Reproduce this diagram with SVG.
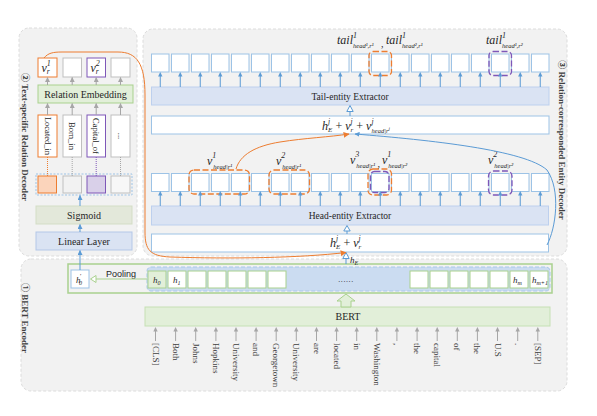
<svg xmlns="http://www.w3.org/2000/svg" xmlns:xlink="http://www.w3.org/1999/xlink" width="597" height="416" viewBox="0 0 597 416">
<style>
.t{font-family:"Liberation Serif","Times New Roman","Noto Sans CJK SC",serif;fill:#262626}
.it{font-family:"Liberation Serif","Times New Roman",serif;font-style:italic;fill:#262626}
.pl{font-family:"Liberation Serif","Noto Sans CJK SC",serif;font-weight:bold;font-size:9px;fill:#404040}
.panel{fill:#f2f2f2;stroke:#dcdcdc;stroke-width:1;stroke-dasharray:3 2}
.bb{fill:#fff;stroke:#9dc3e6;stroke-width:1}
.ext{fill:#dae3f3;stroke:#bdd0ee;stroke-width:1}
.gb{fill:#fff;stroke:#a9d18e;stroke-width:1}
.gr{fill:#fff;stroke:#bfbfbf;stroke-width:1}
.ab{stroke:#5b9bd5;stroke-width:1;fill:none}
.ag{stroke:#a6a6a6;stroke-width:1;fill:none}
.ho{fill:none;stroke:#ed7d31;stroke-width:1.3;stroke-dasharray:6 2.5}
.hp{fill:none;stroke:#7e57b8;stroke-width:1.3;stroke-dasharray:6 2.5}
.tok{font-family:"Liberation Serif","Times New Roman",serif;font-size:9px;fill:#404040}
</style>
<defs>
<marker id="mb" viewBox="0 0 10 10" refX="9" refY="5" markerWidth="5" markerHeight="5" markerUnits="userSpaceOnUse" orient="auto"><path d="M0,0L10,5L0,10z" fill="#5b9bd5"/></marker>
<marker id="mg" viewBox="0 0 10 10" refX="9" refY="5" markerWidth="5" markerHeight="5" markerUnits="userSpaceOnUse" orient="auto"><path d="M0,0L10,5L0,10z" fill="#a6a6a6"/></marker>
<marker id="mo" viewBox="0 0 10 10" refX="9" refY="5" markerWidth="6" markerHeight="6" markerUnits="userSpaceOnUse" orient="auto"><path d="M0,0L10,5L0,10z" fill="#ed7d31"/></marker>
<rect id="bx" width="17.5" height="18" class="bb"/>
<rect id="gx" width="18" height="17" class="gb"/>
<g id="ua"><line x1="0" y1="0" x2="0" y2="-11" stroke="#5b9bd5" stroke-width="1"/><path d="M-2.2,-10.5L0,-15L2.2,-10.5z" fill="#5b9bd5"/></g>
<g id="ga"><line x1="0" y1="0" x2="0" y2="-10" stroke="#a6a6a6" stroke-width="1"/><path d="M-2.2,-9.5L0,-14L2.2,-9.5z" fill="#a6a6a6"/></g>
</defs>
<rect width="597" height="416" fill="#fff"/>

<!-- panels -->
<g id="panel-relation-decoder">
<rect x="19" y="28" width="118" height="228" rx="10" class="panel"/>
<text class="pl" transform="translate(25,137) rotate(90)" text-anchor="middle" dy="0.35em">② Text-specific Relation Decoder</text>
</g>
<g id="panel-entity-decoder">
<rect x="143" y="29" width="424" height="227" rx="10" class="panel"/>
<text class="pl" transform="translate(562,140) rotate(90)" text-anchor="middle" dy="0.35em">③ Relation-corresponded Entity Decoder</text>
</g>
<g id="panel-bert-encoder">
<rect x="21" y="259" width="546" height="132" rx="10" class="panel"/>
<text class="pl" transform="translate(25,318) rotate(90)" text-anchor="middle" dy="0.35em">① BERT Encoder</text>
</g>

<!-- left panel nodes -->
<g id="node-vr1"><rect x="38" y="58" width="19" height="19" fill="#fff" stroke="#ed7d31"/><text x="41.5" y="72" class="it" font-size="12">v<tspan font-size="8" dy="-6">1</tspan><tspan font-size="7.5" dx="-4" dy="8">r</tspan></text></g>
<g id="node-vr-blank1"><rect x="63" y="58" width="18.5" height="19" class="gr"/></g>
<g id="node-vr2"><rect x="87" y="58" width="18.5" height="19" fill="#fff" stroke="#7e57b8"/><text x="90.5" y="72" class="it" font-size="12">v<tspan font-size="8" dy="-6">2</tspan><tspan font-size="7.5" dx="-4" dy="8">r</tspan></text></g>
<g id="node-vr-blank2"><rect x="111" y="58" width="19" height="19" class="gr"/></g>
<g id="node-relation-embedding"><rect x="38" y="85" width="95" height="18" fill="#e2efd9" stroke="#a9d18e"/><text x="85.5" y="97.5" class="t" font-size="10" text-anchor="middle">Relation Embedding</text></g>
<g id="node-located-in"><rect x="38" y="115" width="19" height="42" fill="#fff" stroke="#ed7d31"/><text class="t" font-size="8.5" text-anchor="middle" dy="0.33em" transform="translate(47.5,136) rotate(90)">Located_in</text></g>
<g id="node-born-in"><rect x="63" y="115" width="18.5" height="42" class="gr"/><text class="t" font-size="8.5" text-anchor="middle" dy="0.33em" transform="translate(72.2,136) rotate(90)">Born_in</text></g>
<g id="node-capital-of"><rect x="87" y="115" width="18.5" height="42" fill="#fff" stroke="#7e57b8"/><text class="t" font-size="8.5" text-anchor="middle" dy="0.33em" transform="translate(96.2,136) rotate(90)">Capital_of</text></g>
<g id="node-rel-more"><rect x="111" y="115" width="19" height="42" class="gr"/><text class="t" font-size="8.5" text-anchor="middle" dy="0.33em" transform="translate(120.5,136) rotate(90)">...</text></g>
<g id="node-sigmoid-out">
<rect x="36" y="174" width="96" height="21" fill="none" stroke="#9dc3e6" stroke-dasharray="2 1.5"/>
<rect x="38" y="176" width="18.5" height="17" fill="#fbd4bb" stroke="#ed7d31"/>
<rect x="63" y="176" width="18.5" height="17" fill="#f2f2f2" stroke="#bfbfbf"/>
<rect x="87" y="176" width="18.5" height="17" fill="#d9d0e9" stroke="#7e57b8"/>
<rect x="111" y="176" width="19" height="17" fill="#f7f7f7" stroke="#bfbfbf"/>
</g>
<g id="node-sigmoid"><rect x="36" y="206" width="96" height="18" fill="#e3e8da" stroke="#d3ddc6"/><text x="84" y="218.5" class="t" font-size="10" text-anchor="middle">Sigmoid</text></g>
<g id="node-linear"><rect x="36" y="232" width="96" height="18" fill="#dae3f3" stroke="#b4c7e7"/><text x="84" y="244.5" class="t" font-size="10" text-anchor="middle">Linear Layer</text></g>

<!-- tail row -->
<g id="node-tail-row">
<use href="#bx" x="151.5" y="54"/><use href="#bx" x="171.5" y="54"/><use href="#bx" x="191.5" y="54"/><use href="#bx" x="211.5" y="54"/><use href="#bx" x="231.5" y="54"/><use href="#bx" x="251.5" y="54"/><use href="#bx" x="271.5" y="54"/><use href="#bx" x="291.5" y="54"/><use href="#bx" x="311.5" y="54"/><use href="#bx" x="331.5" y="54"/><use href="#bx" x="351.5" y="54"/><use href="#bx" x="371.5" y="54"/><use href="#bx" x="391.5" y="54"/><use href="#bx" x="411.5" y="54"/><use href="#bx" x="431.5" y="54"/><use href="#bx" x="451.5" y="54"/><use href="#bx" x="471.5" y="54"/><use href="#bx" x="491.5" y="54"/><use href="#bx" x="511.5" y="54"/><use href="#bx" x="531.5" y="54"/>
<rect x="369" y="51.5" width="22.5" height="24" rx="4" class="ho"/>
<rect x="489" y="51.5" width="22.5" height="24" rx="4" class="hp"/>
<text x="337" y="44" class="it" font-size="12">tail<tspan font-size="8" dy="-6">1</tspan><tspan font-size="6.5" dx="-4" dy="10">head¹,r¹</tspan></text>
<text x="381" y="47" class="it" font-size="10">,</text>
<text x="386" y="44" class="it" font-size="12">tail<tspan font-size="8" dy="-6">1</tspan><tspan font-size="6.5" dx="-4" dy="10">head²,r¹</tspan></text>
<text x="486" y="44" class="it" font-size="12">tail<tspan font-size="8" dy="-6">1</tspan><tspan font-size="6.5" dx="-4" dy="10">head¹,r²</tspan></text>
</g>
<g id="node-tail-extractor"><rect x="151.5" y="87" width="397.5" height="18" class="ext"/><text x="350" y="99.5" class="t" font-size="9.5" text-anchor="middle">Tail-entity Extractor</text></g>
<g id="node-tail-input"><rect x="151.5" y="116" width="397.5" height="18" class="bb"/>
<text x="322" y="130" class="it" font-size="12">h<tspan font-size="7.5" dy="-6">j</tspan><tspan font-size="7" dx="-2" dy="8">E</tspan><tspan dy="-2" font-style="normal"> + </tspan>v<tspan font-size="7.5" dy="-6">j</tspan><tspan font-size="7" dx="-2" dy="8">r</tspan><tspan dy="-2" font-style="normal"> + </tspan>v<tspan font-size="7.5" dy="-6">j</tspan><tspan font-size="6.5" dx="-2" dy="9">head|r</tspan><tspan font-size="5" dy="-3">j</tspan></text></g>

<!-- head row -->
<g id="node-head-row">
<use href="#bx" x="151.5" y="173.5"/><use href="#bx" x="171.5" y="173.5"/><use href="#bx" x="191.5" y="173.5"/><use href="#bx" x="211.5" y="173.5"/><use href="#bx" x="231.5" y="173.5"/><use href="#bx" x="251.5" y="173.5"/><use href="#bx" x="271.5" y="173.5"/><use href="#bx" x="291.5" y="173.5"/><use href="#bx" x="311.5" y="173.5"/><use href="#bx" x="331.5" y="173.5"/><use href="#bx" x="351.5" y="173.5"/><use href="#bx" x="371.5" y="173.5"/><use href="#bx" x="391.5" y="173.5"/><use href="#bx" x="411.5" y="173.5"/><use href="#bx" x="431.5" y="173.5"/><use href="#bx" x="451.5" y="173.5"/><use href="#bx" x="471.5" y="173.5"/><use href="#bx" x="491.5" y="173.5"/><use href="#bx" x="511.5" y="173.5"/><use href="#bx" x="531.5" y="173.5"/>
<rect x="189" y="170" width="60.5" height="24" rx="5" class="ho"/>
<rect x="269" y="170" width="40.5" height="24" rx="5" class="ho"/>
<rect x="368" y="169" width="23.5" height="26" rx="5" class="ho" stroke-dasharray="none"/>
<rect x="370.5" y="171.5" width="18.5" height="21" rx="4" class="hp"/>
<rect x="488.5" y="171" width="23.5" height="24" rx="5" class="hp"/>
<text x="207" y="165" class="it" font-size="12">v<tspan font-size="8" dy="-7">1</tspan><tspan font-size="6.5" dx="-3" dy="11">head|r¹</tspan></text>
<text x="276" y="165" class="it" font-size="12">v<tspan font-size="8" dy="-7">2</tspan><tspan font-size="6.5" dx="-3" dy="11">head|r¹</tspan></text>
<text x="350" y="164" class="it" font-size="12">v<tspan font-size="8" dy="-7">3</tspan><tspan font-size="6.5" dx="-3" dy="11">head|r¹</tspan></text>
<text x="377.5" y="167" class="it" font-size="10">,</text>
<text x="382" y="164" class="it" font-size="12">v<tspan font-size="8" dy="-7">1</tspan><tspan font-size="6.5" dx="-3" dy="11">head|r²</tspan></text>
<text x="488" y="164" class="it" font-size="12">v<tspan font-size="8" dy="-7">2</tspan><tspan font-size="6.5" dx="-3" dy="11">head|r²</tspan></text>
</g>
<g id="node-head-extractor"><rect x="151.5" y="206" width="397" height="19" class="ext"/><text x="350" y="218.5" class="t" font-size="9.5" text-anchor="middle">Head-entity Extractor</text></g>
<g id="node-head-input"><rect x="151.5" y="234" width="397" height="18" class="bb"/>
<text x="330" y="247" class="it" font-size="12">h<tspan font-size="7.5" dy="-6">j</tspan><tspan font-size="7" dx="-2" dy="8">E</tspan><tspan dy="-2" font-style="normal"> + </tspan>v<tspan font-size="7.5" dy="-6">j</tspan><tspan font-size="7" dx="-2" dy="8">r</tspan></text></g>

<!-- BERT encoder nodes -->
<g id="node-bert-output">
<rect x="68" y="264" width="484" height="29" fill="none" stroke="#a9d18e" stroke-width="1.5"/>
<rect x="147" y="267" width="403" height="24" rx="4" fill="#cbdcf1" stroke="#a8c8ea" stroke-dasharray="4 2"/>
<rect x="148" y="271" width="18" height="17" fill="#e2efd9" stroke="#a9d18e"/>
<use href="#gx" x="168" y="271"/><use href="#gx" x="188" y="271"/><use href="#gx" x="208" y="271"/><use href="#gx" x="228" y="271"/><use href="#gx" x="248" y="271"/><use href="#gx" x="268" y="271"/>
<use href="#gx" x="410" y="271"/><use href="#gx" x="430" y="271"/><use href="#gx" x="450" y="271"/><use href="#gx" x="470" y="271"/><use href="#gx" x="490" y="271"/><use href="#gx" x="510" y="271"/><use href="#gx" x="530" y="271"/>
<text x="153" y="283" class="it" font-size="9">h<tspan font-size="6" dy="2">0</tspan></text>
<text x="173" y="283" class="it" font-size="9">h<tspan font-size="6" dy="2">1</tspan></text>
<text x="513" y="283" class="it" font-size="9">h<tspan font-size="6" dy="2">m</tspan></text>
<text x="532" y="283" class="it" font-size="9">h<tspan font-size="6" dy="2">m+1</tspan></text>
<text x="346" y="282" class="t" font-size="8" letter-spacing="0.6" text-anchor="middle">......</text>
</g>
<g id="node-h0-pooled"><rect x="71" y="270" width="18" height="18" class="bb"/><text x="76" y="283" class="it" font-size="9">h<tspan font-size="7" dx="-1" dy="-5">'</tspan><tspan font-size="6" dx="-2" dy="7">0</tspan></text></g>
<g id="node-bert"><rect x="145" y="307" width="405" height="19" fill="#e2efd9" stroke="#c5e0b4"/><text x="348" y="320" class="t" font-size="10" text-anchor="middle">BERT</text></g>
<g id="node-tokens">
<text class="tok" dy="0.33em" transform="translate(155.5,343) rotate(90)">[CLS]</text>
<text class="tok" dy="0.33em" transform="translate(175.6,343) rotate(90)">Both</text>
<text class="tok" dy="0.33em" transform="translate(195.7,343) rotate(90)">Johns</text>
<text class="tok" dy="0.33em" transform="translate(215.9,343) rotate(90)">Hopkins</text>
<text class="tok" dy="0.33em" transform="translate(236,343) rotate(90)">University</text>
<text class="tok" dy="0.33em" transform="translate(256.1,343) rotate(90)">and</text>
<text class="tok" dy="0.33em" transform="translate(276.2,343) rotate(90)">Georgetown</text>
<text class="tok" dy="0.33em" transform="translate(296.3,343) rotate(90)">University</text>
<text class="tok" dy="0.33em" transform="translate(316.5,343) rotate(90)">are</text>
<text class="tok" dy="0.33em" transform="translate(336.6,343) rotate(90)">located</text>
<text class="tok" dy="0.33em" transform="translate(356.7,343) rotate(90)">in</text>
<text class="tok" dy="0.33em" transform="translate(376.8,343) rotate(90)">Washington</text>
<text class="tok" dy="0.33em" transform="translate(396.9,343) rotate(90)">,</text>
<text class="tok" dy="0.33em" transform="translate(417.1,343) rotate(90)">the</text>
<text class="tok" dy="0.33em" transform="translate(437.2,343) rotate(90)">capital</text>
<text class="tok" dy="0.33em" transform="translate(457.3,343) rotate(90)">of</text>
<text class="tok" dy="0.33em" transform="translate(477.4,343) rotate(90)">the</text>
<text class="tok" dy="0.33em" transform="translate(497.5,343) rotate(90)">U.S</text>
<text class="tok" dy="0.33em" transform="translate(517.7,343) rotate(90)">.</text>
<text class="tok" dy="0.33em" transform="translate(537.8,343) rotate(90)">[SEP]</text>
</g>
<text x="106" y="276.5" font-family="Liberation Sans, Arial, sans-serif" font-size="9" fill="#262626">Pooling</text>

<!-- connectors -->
<g id="connectors">
<line x1="47.5" y1="85" x2="47.5" y2="77.5" class="ag" marker-end="url(#mg)"/>
<line x1="72.2" y1="85" x2="72.2" y2="77.5" class="ag" marker-end="url(#mg)"/>
<line x1="96.2" y1="85" x2="96.2" y2="77.5" class="ag" marker-end="url(#mg)"/>
<line x1="120.5" y1="85" x2="120.5" y2="77.5" class="ag" marker-end="url(#mg)"/>
<line x1="47.5" y1="115" x2="47.5" y2="103.5" class="ag" marker-end="url(#mg)"/>
<line x1="72.2" y1="115" x2="72.2" y2="103.5" class="ag" marker-end="url(#mg)"/>
<line x1="96.2" y1="115" x2="96.2" y2="103.5" class="ag" marker-end="url(#mg)"/>
<line x1="120.5" y1="115" x2="120.5" y2="103.5" class="ag" marker-end="url(#mg)"/>
<line x1="47.5" y1="157" x2="47.5" y2="176" stroke="#ed7d31" stroke-dasharray="1 1"/>
<line x1="72.2" y1="157" x2="72.2" y2="176" stroke="#a6a6a6" stroke-dasharray="1 1"/>
<line x1="96.2" y1="157" x2="96.2" y2="176" stroke="#7e57b8" stroke-dasharray="1 1"/>
<line x1="120.5" y1="157" x2="120.5" y2="176" stroke="#a6a6a6" stroke-dasharray="1 1"/>
<line x1="80" y1="206" x2="80" y2="195.5" class="ab" marker-end="url(#mb)"/>
<line x1="80" y1="232" x2="80" y2="224.5" class="ab" marker-end="url(#mb)"/>
<line x1="80" y1="270" x2="80" y2="250.5" class="ab" marker-end="url(#mb)"/>
<!-- tail arrows -->
<use href="#ua" x="160.25" y="87"/><use href="#ua" x="180.25" y="87"/><use href="#ua" x="200.25" y="87"/><use href="#ua" x="220.25" y="87"/><use href="#ua" x="240.25" y="87"/><use href="#ua" x="260.25" y="87"/><use href="#ua" x="280.25" y="87"/><use href="#ua" x="300.25" y="87"/><use href="#ua" x="320.25" y="87"/><use href="#ua" x="340.25" y="87"/><use href="#ua" x="360.25" y="87"/><use href="#ua" x="380.25" y="87"/><use href="#ua" x="400.25" y="87"/><use href="#ua" x="420.25" y="87"/><use href="#ua" x="440.25" y="87"/><use href="#ua" x="460.25" y="87"/><use href="#ua" x="480.25" y="87"/><use href="#ua" x="500.25" y="87"/><use href="#ua" x="520.25" y="87"/><use href="#ua" x="540.25" y="87"/>
<!-- head arrows -->
<use href="#ua" x="160.25" y="206"/><use href="#ua" x="180.25" y="206"/><use href="#ua" x="200.25" y="206"/><use href="#ua" x="220.25" y="206"/><use href="#ua" x="240.25" y="206"/><use href="#ua" x="260.25" y="206"/><use href="#ua" x="280.25" y="206"/><use href="#ua" x="300.25" y="206"/><use href="#ua" x="320.25" y="206"/><use href="#ua" x="340.25" y="206"/><use href="#ua" x="360.25" y="206"/><use href="#ua" x="380.25" y="206"/><use href="#ua" x="400.25" y="206"/><use href="#ua" x="420.25" y="206"/><use href="#ua" x="440.25" y="206"/><use href="#ua" x="460.25" y="206"/><use href="#ua" x="480.25" y="206"/><use href="#ua" x="500.25" y="206"/><use href="#ua" x="520.25" y="206"/><use href="#ua" x="540.25" y="206"/>
<!-- token arrows -->
<use href="#ga" x="155.5" y="341"/><use href="#ga" x="175.6" y="341"/><use href="#ga" x="195.7" y="341"/><use href="#ga" x="215.9" y="341"/><use href="#ga" x="236" y="341"/><use href="#ga" x="256.1" y="341"/><use href="#ga" x="276.2" y="341"/><use href="#ga" x="296.3" y="341"/><use href="#ga" x="316.5" y="341"/><use href="#ga" x="336.6" y="341"/><use href="#ga" x="356.7" y="341"/><use href="#ga" x="376.8" y="341"/><use href="#ga" x="396.9" y="341"/><use href="#ga" x="417.1" y="341"/><use href="#ga" x="437.2" y="341"/><use href="#ga" x="457.3" y="341"/><use href="#ga" x="477.4" y="341"/><use href="#ga" x="497.5" y="341"/><use href="#ga" x="517.7" y="341"/><use href="#ga" x="537.8" y="341"/>
<!-- hollow arrows -->
<line x1="350" y1="116" x2="350" y2="111.5" stroke="#5b9bd5"/>
<path d="M350,105.5L346.8,111.5L353.2,111.5z" fill="#fff" stroke="#5b9bd5"/>
<line x1="347" y1="234" x2="347" y2="231" stroke="#5b9bd5"/>
<path d="M347,225.5L343.8,231L350.2,231z" fill="#fff" stroke="#5b9bd5"/>
<line x1="346" y1="264" x2="346" y2="258.5" stroke="#5b9bd5"/>
<path d="M346,252.5L342.8,258.5L349.2,258.5z" fill="#fff" stroke="#5b9bd5"/>
<text x="350" y="263" class="it" font-size="9">h<tspan font-size="6" dy="2">E</tspan></text>
<path d="M346,294L355,301L351,301L351,307L341,307L341,301L337,301z" fill="#e2efd9" stroke="#a9d18e"/>
<line x1="147" y1="279" x2="96" y2="279" stroke="#a9d18e"/>
<path d="M90.5,279L96,275.5L96,282.5z" fill="#fff" stroke="#a9d18e"/>
<!-- curves -->
<path d="M44,58C48,53 53,52 62,52L118,52C137,52 145,64 145,95L145,232C145,250 150,256 170,257C230,259 300,258 346,252.5" fill="none" stroke="#ed7d31" stroke-width="1" marker-end="url(#mo)"/>
<path d="M236,169C240,155 255,146 280,142C305,138 330,137 349,134" fill="none" stroke="#ed7d31" stroke-width="1" marker-end="url(#mo)"/>
<path d="M547,245C556,228 561,190 547,170C525,150 430,140 355,134" fill="none" stroke="#5b9bd5" stroke-width="1" marker-end="url(#mb)"/>
</g>
</svg>
